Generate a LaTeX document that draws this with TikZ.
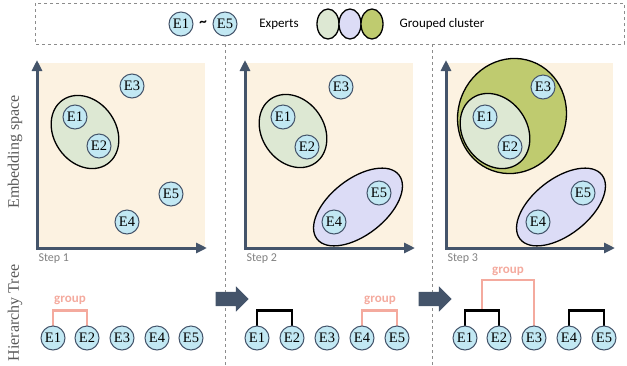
\documentclass[tikz,border=0pt]{standalone}
\usepackage{fontspec}
\setmainfont{Liberation Serif}
\newfontfamily\labelfont{Carlito}
\usetikzlibrary{arrows.meta,shapes.arrows}
\pgfdeclarelayer{bg}
\pgfsetlayers{bg,main}
\definecolor{expfill}{HTML}{C2E8F3}
\definecolor{slate}{HTML}{44546A}
\definecolor{paper}{HTML}{FCF2E1}
\definecolor{sage}{HTML}{DDE8D3}
\definecolor{lilac}{HTML}{DCDCF6}
\definecolor{olive}{HTML}{BFCB6F}
\definecolor{salmon}{HTML}{F4AA9E}
\definecolor{sepgray}{HTML}{8C8C8C}
\definecolor{sidegray}{HTML}{595959}
\definecolor{stepgray}{HTML}{808080}
\tikzset{
    expert/.style={circle, inner sep=0mm, draw=slate, fill=expfill, minimum size=24pt, line width=1pt, font=\fontsize{14.5}{14.5}\selectfont},
    cluster/.style={draw=black, line width=1.3pt},
    axis/.style={draw=slate, line width=3pt, line join=miter, {Triangle[length=11pt,width=10pt]}-{Triangle[length=11pt,width=10pt]}},
    tie/.style={draw=black, line width=2.2pt},
    grp/.style={draw=salmon, line width=2.2pt},
    grplabel/.style={text=salmon, font=\labelfont\bfseries\fontsize{13}{13}\selectfont},
    steplabel/.style={text=stepgray, anchor=west, font=\labelfont\fontsize{12}{12}\selectfont},
    sidelabel/.style={rotate=90, text=sidegray, font=\fontsize{16}{16}\selectfont},
    legendtext/.style={font=\labelfont\fontsize{13}{13}\selectfont},
    sep/.style={draw=sepgray, dashed, line width=0.8pt},
    stepper/.style={single arrow, fill=slate, inner xsep=0pt, inner ysep=7pt, single arrow head extend=5.5pt, minimum height=33pt}
}

\begin{document}
\begin{tikzpicture}[x=1pt, y=-1pt]
    \useasboundingbox (0,0) rectangle (627,365);

    \node (lge1) [expert] at (181, 24) {E1};
    \node (tilde) at (203, 24) {\labelfont\bfseries\fontsize{15}{15}\selectfont\textasciitilde};
    \node (lge5) [expert] at (225, 24) {E5};
    \node (experts) [legendtext] at (279, 24) {Experts};
    \node (grouped) [legendtext] at (442, 24) {Grouped cluster};

    \node (embed) [sidelabel] at (15, 152) {Embedding space};
    \node (hier) [sidelabel] at (15, 313) {Hierarchy Tree};

    \node (p1e1) [expert] at (75, 117) {E1};
    \node (p1e2) [expert] at (99, 146) {E2};
    \node (p1e3) [expert] at (132, 86) {E3};
    \node (p1e4) [expert] at (127, 222) {E4};
    \node (p1e5) [expert] at (171, 194) {E5};

    \node (p2e1) [expert] at (283, 117) {E1};
    \node (p2e2) [expert] at (307, 147) {E2};
    \node (p2e3) [expert] at (341, 87) {E3};
    \node (p2e4) [expert] at (334, 222) {E4};
    \node (p2e5) [expert] at (379, 193) {E5};

    \node (p3e1) [expert] at (485, 117) {E1};
    \node (p3e2) [expert] at (510, 147) {E2};
    \node (p3e3) [expert] at (543, 87) {E3};
    \node (p3e4) [expert] at (538, 222) {E4};
    \node (p3e5) [expert] at (583, 193) {E5};

    \node (step1) [steplabel] at (35, 259) {Step 1};
    \node (step2) [steplabel] at (243, 259) {Step 2};
    \node (step3) [steplabel] at (444, 259) {Step 3};

    \node (s1e1) [expert] at (53, 338) {E1};
    \node (s1e2) [expert] at (87, 338) {E2};
    \node (s1e3) [expert] at (122, 338) {E3};
    \node (s1e4) [expert] at (157, 338) {E4};
    \node (s1e5) [expert] at (191, 338) {E5};

    \node (s2e1) [expert] at (257, 338) {E1};
    \node (s2e2) [expert] at (292, 338) {E2};
    \node (s2e3) [expert] at (327, 338) {E3};
    \node (s2e4) [expert] at (362, 338) {E4};
    \node (s2e5) [expert] at (397, 338) {E5};

    \node (s3e1) [expert] at (465, 338) {E1};
    \node (s3e2) [expert] at (499, 338) {E2};
    \node (s3e3) [expert] at (534, 338) {E3};
    \node (s3e4) [expert] at (569, 338) {E4};
    \node (s3e5) [expert] at (604, 338) {E5};

    \node (g1) [grplabel] at (70, 300) {group};
    \node (g2) [grplabel] at (380, 300) {group};
    \node (g3) [grplabel] at (508, 271) {group};

    \coordinate (k31) at (482, 311);

    \node (go1) [stepper] at (228.5, 299) {};
    \node (go2) [stepper] at (431.5, 299) {};

    \begin{pgfonlayer}{bg}
        \draw[sep] (35, 3) rectangle (624, 44);
        \draw[sep] (225, 44) -- (225, 365);
        \draw[sep] (432, 44) -- (432, 365);

        \fill[paper] (37, 63) rectangle (205, 248);
        \fill[paper] (245, 63) rectangle (413, 248);
        \fill[paper] (446, 63) rectangle (613, 248);

        \draw[cluster, fill=sage] (328, 24) ellipse (11 and 15);
        \draw[cluster, fill=lilac] (350, 24) ellipse (11 and 15);
        \draw[cluster, fill=olive] (372, 24) ellipse (11 and 15);

        \draw[cluster, fill=sage, rotate around={-55:(85,132)}] (85, 132) ellipse (39 and 31);

        \draw[cluster, fill=sage, rotate around={-55:(293,131)}] (293, 131) ellipse (39 and 31);
        \draw[cluster, fill=lilac, rotate around={38:(358,207)}] (358, 207) ellipse (52 and 28);

        \draw[cluster, fill=olive, rotate around={-20:(512,116)}] (512, 116) ellipse (54 and 58);
        \draw[cluster, fill=sage, rotate around={-55:(495,131)}] (495, 131) ellipse (40 and 32);
        \draw[cluster, fill=lilac, rotate around={38:(561,207)}] (561, 207) ellipse (52 and 28);

        \draw[axis] (37, 60) -- (37, 248) -- (207, 248);
        \draw[axis] (245, 60) -- (245, 248) -- (415, 248);
        \draw[axis] (446, 60) -- (446, 248) -- (615, 248);

        \draw[grp] (s1e1.north) -- ++(0, -15) -| (s1e2.north);
        \draw[tie] (s2e1.north) -- ++(0, -15) -| (s2e2.north);
        \draw[grp] (s2e4.north) -- ++(0, -15) -| (s2e5.north);
        \draw[grp] (k31) -- ++(0, -31) -| (s3e3.north);
        \draw[tie] (s3e1.north) -- ++(0, -15) -| (s3e2.north);
        \draw[tie] (s3e4.north) -- ++(0, -15) -| (s3e5.north);
    \end{pgfonlayer}
\end{tikzpicture}
\end{document}
